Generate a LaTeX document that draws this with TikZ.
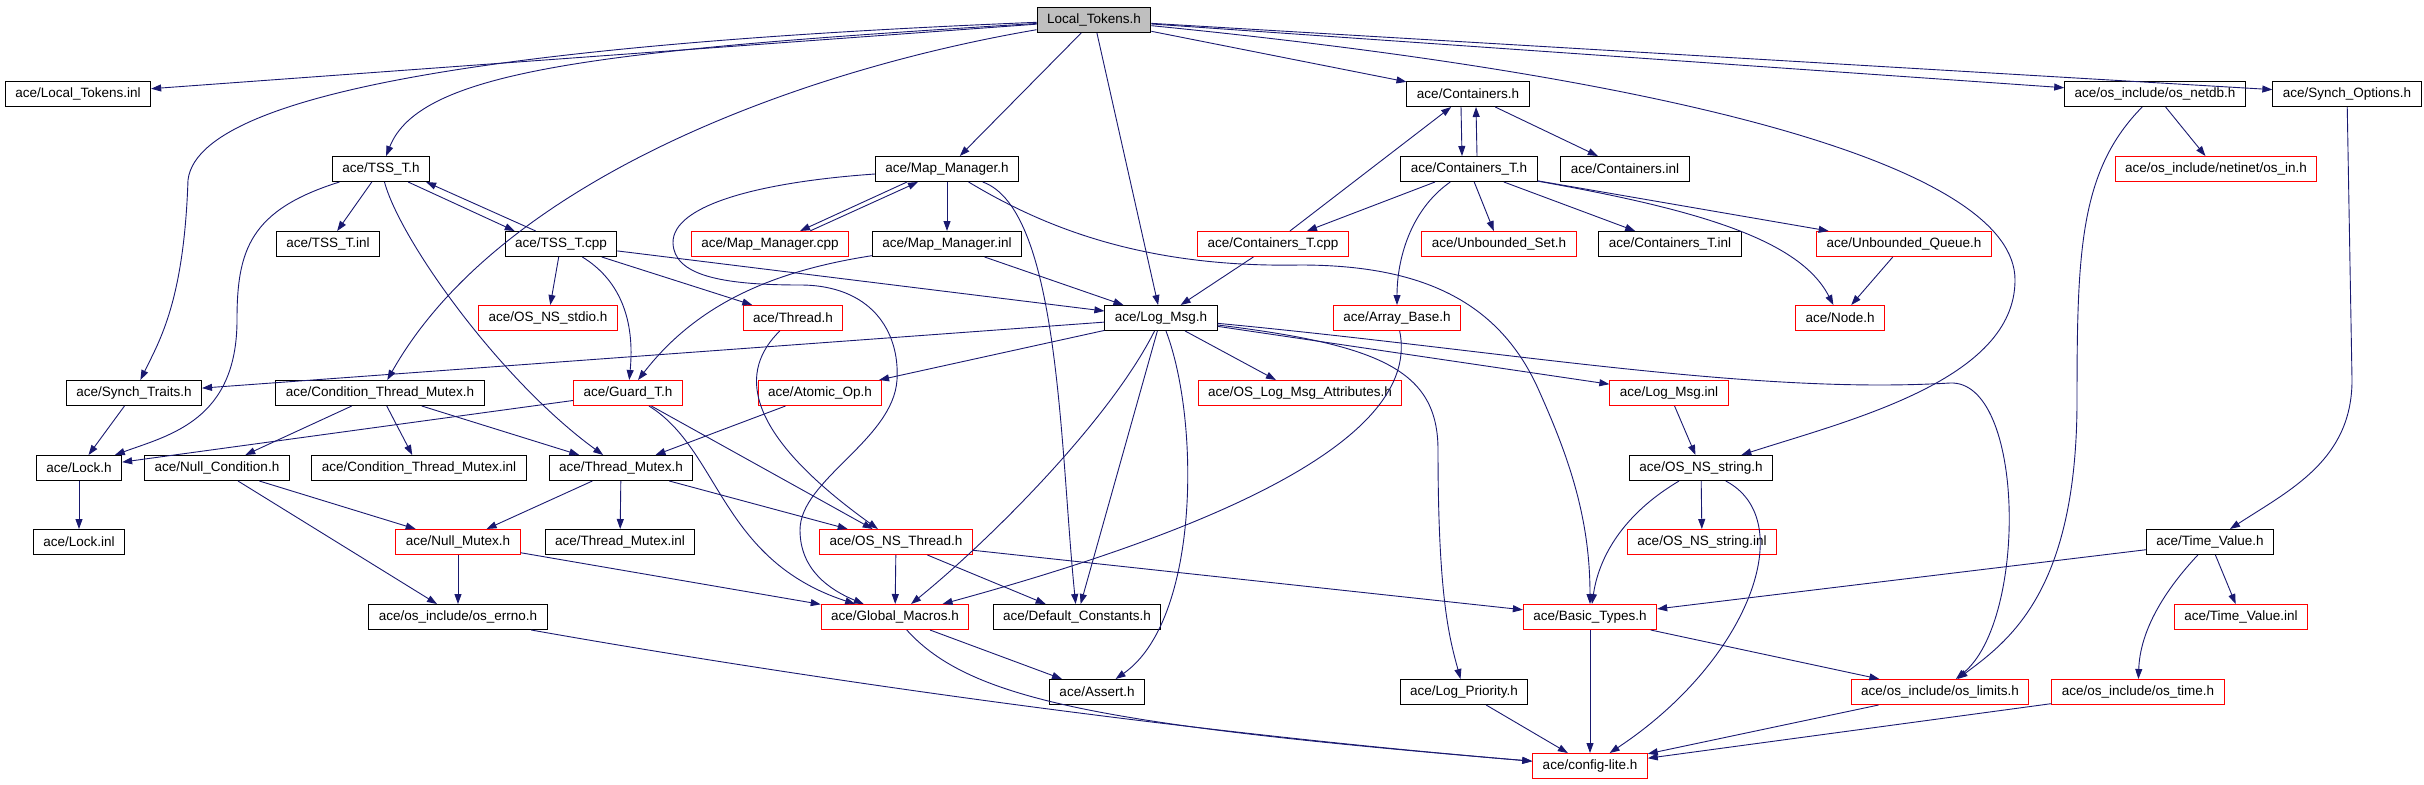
\documentclass[tikz,border=0pt]{standalone}
\usepackage{fontspec}
\setmainfont{Liberation Sans}
\usepackage{xcolor}
\usepackage{tikz}
\usetikzlibrary{arrows.meta}

\definecolor{edgeblue}{RGB}{25,25,112}

\begin{document}
\begin{tikzpicture}[x=1pt, y=-1pt,
    >={Triangle[length=10pt, width=7pt]},
    hdrfile/.style={draw, line width=1pt, fill=white, inner xsep=10pt,
      inner ysep=0pt, minimum height=25pt,
      font=\fontsize{13.5}{16}\selectfont},
    docfile/.style={hdrfile, draw=black},
    redfile/.style={hdrfile, draw=red},
    rootfile/.style={hdrfile, draw=black, fill=gray!50},
    dep/.style={->, draw=edgeblue, line width=0.9pt}]

    \useasboundingbox (0,0) rectangle (2424,784);

    % row 0 and 1
    \node[rootfile] (LT) at (1094,20) {Local\_Tokens.h};
    \node[docfile] (LTinl) at (78,94) {ace/Local\_Tokens.inl};
    \node[docfile] (Cont) at (1468,94) {ace/Containers.h};
    \node[docfile] (netdb) at (2155,94) {ace/os\_include/os\_netdb.h};
    \node[docfile] (SynchOpt) at (2347,94) {ace/Synch\_Options.h};
    % row 2
    \node[docfile] (TSST) at (381,169) {ace/TSS\_T.h};
    \node[docfile] (MapMgr) at (947,169) {ace/Map\_Manager.h};
    \node[docfile] (ContT) at (1469,169) {ace/Containers\_T.h};
    \node[docfile] (ContInl) at (1625,169) {ace/Containers.inl};
    \node[redfile] (osin) at (2216,169) {ace/os\_include/netinet/os\_in.h};
    % row 3
    \node[docfile] (TSSTinl) at (328,244) {ace/TSS\_T.inl};
    \node[docfile] (TSSTcpp) at (561,244) {ace/TSS\_T.cpp};
    \node[redfile] (MapMgrCpp) at (770,244) {ace/Map\_Manager.cpp};
    \node[docfile] (MapMgrInl) at (947,244) {ace/Map\_Manager.inl};
    \node[redfile] (ContTcpp) at (1273,244) {ace/Containers\_T.cpp};
    \node[redfile] (UnbSet) at (1499,244) {ace/Unbounded\_Set.h};
    \node[docfile] (ContTinl) at (1670,244) {ace/Containers\_T.inl};
    \node[redfile] (UnbQueue) at (1904,244) {ace/Unbounded\_Queue.h};
    % row 4
    \node[redfile] (stdio) at (548,318) {ace/OS\_NS\_stdio.h};
    \node[redfile] (Thread) at (793,318) {ace/Thread.h};
    \node[docfile] (LogMsg) at (1161,318) {ace/Log\_Msg.h};
    \node[redfile] (ArrayBase) at (1397,318) {ace/Array\_Base.h};
    \node[redfile] (Node) at (1840,318) {ace/Node.h};
    % row 5
    \node[docfile] (SynchTraits) at (134,393) {ace/Synch\_Traits.h};
    \node[docfile] (CondTM) at (380,393) {ace/Condition\_Thread\_Mutex.h};
    \node[redfile] (GuardT) at (628,393) {ace/Guard\_T.h};
    \node[redfile] (AtomicOp) at (820,393) {ace/Atomic\_Op.h};
    \node[redfile] (LogAttr) at (1300,393) {ace/OS\_Log\_Msg\_Attributes.h};
    \node[redfile] (LogMsgInl) at (1669,393) {ace/Log\_Msg.inl};
    % row 6
    \node[docfile] (Lock) at (79,468) {ace/Lock.h};
    \node[docfile] (NullCond) at (217,468) {ace/Null\_Condition.h};
    \node[docfile] (CondTMinl) at (419,468) {ace/Condition\_Thread\_Mutex.inl};
    \node[docfile] (ThreadMutex) at (621,468) {ace/Thread\_Mutex.h};
    \node[docfile] (OSstring) at (1701,468) {ace/OS\_NS\_string.h};
    % row 7
    \node[docfile] (LockInl) at (79,542) {ace/Lock.inl};
    \node[redfile] (NullMutex) at (458,542) {ace/Null\_Mutex.h};
    \node[docfile] (ThreadMutexInl) at (620,542) {ace/Thread\_Mutex.inl};
    \node[redfile] (OSThread) at (896,542) {ace/OS\_NS\_Thread.h};
    \node[redfile] (OSstringInl) at (1702,542) {ace/OS\_NS\_string.inl};
    \node[docfile] (TimeValue) at (2210,542) {ace/Time\_Value.h};
    % row 8
    \node[docfile] (errno) at (458,617) {ace/os\_include/os\_errno.h};
    \node[redfile] (GlobalMacros) at (895,617) {ace/Global\_Macros.h};
    \node[docfile] (DefConst) at (1077,617) {ace/Default\_Constants.h};
    \node[redfile] (BasicTypes) at (1590,617) {ace/Basic\_Types.h};
    \node[redfile] (TimeValueInl) at (2241,617) {ace/Time\_Value.inl};
    % row 9 and 10
    \node[docfile] (Assert) at (1097,692) {ace/Assert.h};
    \node[docfile] (LogPrio) at (1464,692) {ace/Log\_Priority.h};
    \node[redfile] (limits) at (1940,692) {ace/os\_include/os\_limits.h};
    \node[redfile] (ostime) at (2138,692) {ace/os\_include/os\_time.h};
    \node[redfile] (config) at (1590,766) {ace/config-lite.h};

    % from Local_Tokens.h
    \draw[dep] (LT) -- (LTinl);
    \draw[dep] (LT) .. controls (600,50) and (420,70) .. (TSST);
    \draw[dep] (LT) .. controls (600,40) and (200,80) .. (188,180)
      .. controls (184,300) and (160,340) .. (SynchTraits);
    \draw[dep] (LT) .. controls (800,70) and (500,180) .. (CondTM);
    \draw[dep] (LT) -- (MapMgr);
    \draw[dep] (LT) -- (LogMsg);
    \draw[dep] (LT) -- (Cont);
    \draw[dep] (LT) -- (netdb);
    \draw[dep] (LT) -- (SynchOpt);
    \draw[dep] (LT) .. controls (1700,80) and (2015,170) .. (2015,280)
      .. controls (2015,380) and (1850,420) .. (OSstring);

    % TSS_T
    \draw[dep] (TSST) -- (TSSTinl);
    \draw[dep] ([xshift=-22pt]TSST.south east) -- ([xshift=10pt]TSSTcpp.north west);
    \draw[dep] ([xshift=31pt]TSSTcpp.north west) -- ([xshift=-4pt]TSST.south east);
    \draw[dep] (TSST) .. controls (250,210) and (237,250) .. (237,320)
      .. controls (237,420) and (170,435) .. (Lock);
    \draw[dep] (TSST) .. controls (400,240) and (500,380) .. (ThreadMutex);
    \draw[dep] (TSSTcpp) -- (stdio);
    \draw[dep] (TSSTcpp) -- (Thread);
    \draw[dep] (TSSTcpp) .. controls (620,280) and (635,320) .. (GuardT);
    \draw[dep] (TSSTcpp) -- (LogMsg);

    % Map_Manager
    \draw[dep] ([xshift=-40pt]MapMgr.south) -- ([xshift=30pt]MapMgrCpp.north);
    \draw[dep] ([xshift=40pt]MapMgrCpp.north) -- ([xshift=-29pt]MapMgr.south);
    \draw[dep] (MapMgr) -- (MapMgrInl);
    \draw[dep] (MapMgr) .. controls (1060,210) and (1060,450) .. (DefConst);
    \draw[dep] (MapMgr) .. controls (1040,225) and (1140,268) .. (1300,265)
      .. controls (1420,265) and (1500,300) .. (1540,393)
      .. controls (1570,460) and (1590,520) .. (BasicTypes);
    \draw[dep] (MapMgr) .. controls (760,182) and (672,205) .. (673,243)
      .. controls (674,275) and (720,285) .. (800,285)
      .. controls (870,285) and (900,330) .. (897,380)
      .. controls (893,440) and (800,480) .. (800,530)
      .. controls (800,570) and (830,590) .. (GlobalMacros);
    \draw[dep] (MapMgrInl) -- (LogMsg);
    \draw[dep] (MapMgrInl) .. controls (780,270) and (700,300) .. (GuardT);

    % Containers
    \draw[dep] ([xshift=-7pt]Cont.south) -- ([xshift=-7pt]ContT.north);
    \draw[dep] ([xshift=8pt]ContT.north) -- ([xshift=8pt]Cont.south);
    \draw[dep] (Cont) -- (ContInl);
    \draw[dep] (ContTcpp) -- (Cont);
    \draw[dep] (ContT) -- (ContTcpp);
    \draw[dep] (ContT) -- (UnbSet);
    \draw[dep] (ContT) -- (ContTinl);
    \draw[dep] (ContT) -- (UnbQueue);
    \draw[dep] (ContT) .. controls (1700,210) and (1800,240) .. (Node);
    \draw[dep] (ContT) .. controls (1410,210) and (1397,260) .. (ArrayBase);
    \draw[dep] (UnbQueue) -- (Node);
    \draw[dep] (ContTcpp) -- (LogMsg);

    % os_netdb.h, Synch_Options.h
    \draw[dep] (netdb) -- (osin);
    \draw[dep] (netdb) .. controls (2080,170) and (2077,250) .. (2077,400)
      .. controls (2077,590) and (2010,640) .. (limits);
    \draw[dep] (SynchOpt) -- (2352,380)
      .. controls (2352,460) and (2290,490) .. (TimeValue);

    % Log_Msg
    \draw[dep] (LogMsg) -- (SynchTraits);
    \draw[dep] (LogMsg) -- (AtomicOp);
    \draw[dep] (LogMsg) -- (LogAttr);
    \draw[dep] (LogMsg) -- (LogMsgInl);
    \draw[dep] (LogMsg) .. controls (1500,350) and (1750,395) .. (1950,383)
      .. controls (2025,380) and (2028,620) .. (limits);
    \draw[dep] (LogMsg) .. controls (1110,420) and (990,540) .. (GlobalMacros);
    \draw[dep] (LogMsg) -- (DefConst);
    \draw[dep] (LogMsg) .. controls (1200,420) and (1200,620) .. (Assert);
    \draw[dep] (LogMsg) .. controls (1380,345) and (1438,370) .. (1438,450)
      .. controls (1438,600) and (1450,640) .. (LogPrio);
    \draw[dep] (LogMsgInl) -- (OSstring);

    % middle rows
    \draw[dep] (AtomicOp) -- (ThreadMutex);
    \draw[dep] (GuardT) -- (Lock);
    \draw[dep] (GuardT) -- (OSThread);
    \draw[dep] (GuardT) .. controls (720,450) and (720,560) .. (GlobalMacros);
    \draw[dep] (Thread) .. controls (740,370) and (740,430) .. (OSThread);
    \draw[dep] (ArrayBase) .. controls (1420,430) and (1250,520) .. (GlobalMacros);
    \draw[dep] (SynchTraits) -- (Lock);
    \draw[dep] (CondTM) -- (NullCond);
    \draw[dep] (CondTM) -- (CondTMinl);
    \draw[dep] (CondTM) -- (ThreadMutex);
    \draw[dep] (Lock) -- (LockInl);
    \draw[dep] (NullCond) -- (NullMutex);
    \draw[dep] (NullCond) -- (errno);
    \draw[dep] (ThreadMutex) -- (NullMutex);
    \draw[dep] (ThreadMutex) -- (ThreadMutexInl);
    \draw[dep] (ThreadMutex) -- (OSThread);
    \draw[dep] (NullMutex) -- (errno);
    \draw[dep] (NullMutex) -- (GlobalMacros);
    \draw[dep] (OSThread) -- (GlobalMacros);
    \draw[dep] (OSThread) -- (DefConst);
    \draw[dep] (OSThread) -- (BasicTypes);

    % OS_NS_string.h, Time_Value.h
    \draw[dep] (OSstring) -- (OSstringInl);
    \draw[dep] (OSstring) .. controls (1630,510) and (1600,550) .. (BasicTypes);
    \draw[dep] (OSstring) .. controls (1800,520) and (1750,660) .. (config);
    \draw[dep] (TimeValue) -- (BasicTypes);
    \draw[dep] (TimeValue) -- (TimeValueInl);
    \draw[dep] (TimeValue) .. controls (2165,590) and (2140,630) .. (ostime);

    % down to config-lite.h
    \draw[dep] (errno) .. controls (700,660) and (1100,725) .. (config);
    \draw[dep] (GlobalMacros) -- (Assert);
    \draw[dep] (GlobalMacros) .. controls (970,700) and (1100,725) .. (config);
    \draw[dep] (BasicTypes) -- (config);
    \draw[dep] (BasicTypes) -- (limits);
    \draw[dep] (limits) -- (config);
    \draw[dep] (ostime) -- (config);
    \draw[dep] (LogPrio) -- (config);

  \end{tikzpicture}
\end{document}
